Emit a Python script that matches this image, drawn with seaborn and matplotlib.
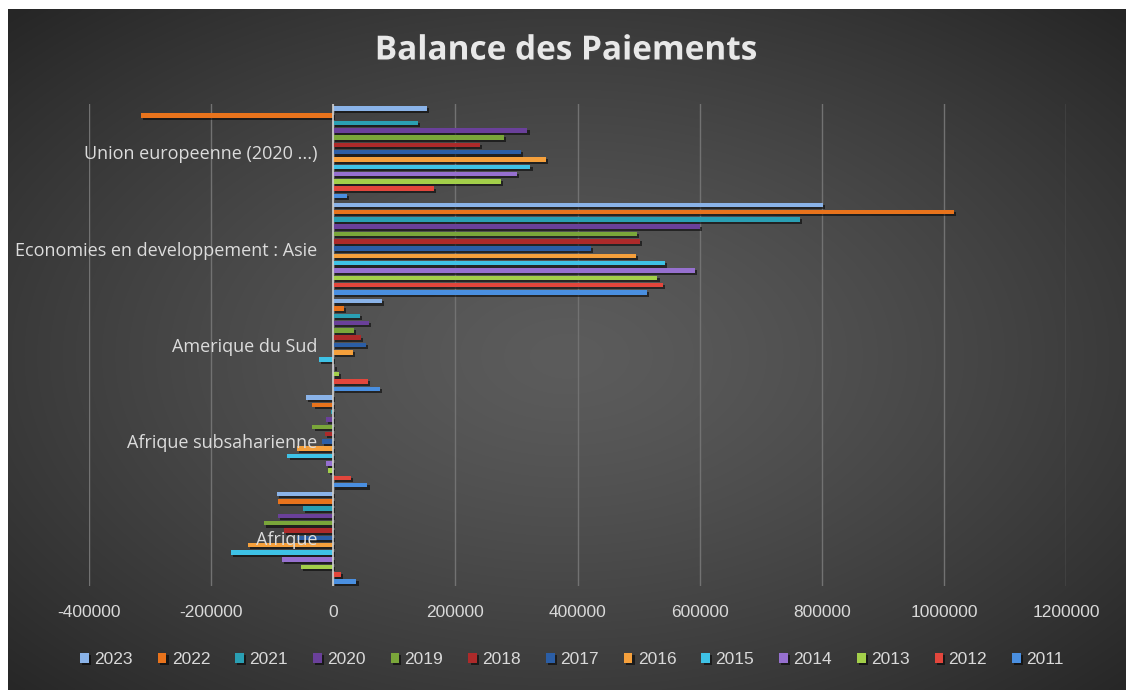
import numpy as np
import pandas as pd
import matplotlib
matplotlib.use("Agg")
import matplotlib.pyplot as plt
import matplotlib.patheffects as pe
import matplotlib.transforms as mtransforms
from matplotlib.ticker import FuncFormatter
import seaborn as sns

# ---- data ----
years = [2011, 2012, 2013, 2014, 2015, 2016, 2017, 2018, 2019, 2020, 2021, 2022, 2023]
categories = ["Union europeenne (2020 ...)", "Economies en developpement : Asie",
              "Amerique du Sud", "Afrique subsaharienne", "Afrique"]
ue_values = [23000, 165000, 275000, 301000, 323000, 349000, 308000, 241000, 280000, 318000, 138000, -315000, 154000]
asie_values = [514000, 540000, 531000, 592000, 543000, 496000, 422000, 502000, 497000, 600000, 764000, 1016000, 802000]
amsud_values = [77000, 57000, 10000, 2000, -23000, 32000, 54000, 45000, 34000, 59000, 43000, 18000, 80000]
afsub_values = [56000, 29000, -8000, -12000, -75000, -59000, -18000, -13000, -34000, -12000, -4000, -34000, -45000]
afrique_values = [38000, 13000, -53000, -84000, -168000, -140000, -60000, -80000, -113000, -91000, -49000, -91000, -92000]
x_ticks = [-400000, -200000, 0, 200000, 400000, 600000, 800000, 1000000, 1200000]
title = "Balance des Paiements"

series_by_cat = dict(zip(categories, [ue_values, asie_values, amsud_values, afsub_values, afrique_values]))
rows = []
for cat, vals in series_by_cat.items():
    for y, v in zip(years, vals):
        rows.append({"category": cat, "year": str(y), "value": v})
df = pd.DataFrame(rows)

year_colors = {
    "2011": "#4a8fe0", "2012": "#e2463c", "2013": "#a3cf4a", "2014": "#9670cf",
    "2015": "#3ec2e6", "2016": "#f5a03c", "2017": "#2b5ea6", "2018": "#ad2a2a",
    "2019": "#7aa63a", "2020": "#6a409a", "2021": "#2a9fb3", "2022": "#e8731c",
    "2023": "#8ab3e8",
}
hue_order = [str(y) for y in years[::-1]]

W, H = 1126, 690
fig = plt.figure(figsize=(W / 100, H / 100), dpi=100, facecolor="white")

# dark radial-gradient background (white strips at left and top as in the screenshot)
bg = fig.add_axes([8 / W, 0, 1 - 8 / W, 1 - 9 / H], zorder=-10)
gx, gy = np.meshgrid(np.linspace(-1, 1, 560), np.linspace(-1, 1, 340))
r = np.sqrt(gx ** 2 + (gy - 0.02) ** 2)
c = 0x5c - (0x5c - 0x26) * np.clip(r / 1.42, 0, 1) ** 1.3
img = np.dstack([c, c, c]) / 255.0
bg.imshow(img, aspect="auto", extent=[0, 1, 0, 1], interpolation="bilinear")
bg.set_axis_off()

ax = fig.add_axes([89 / W, 1 - 586 / H, (1066 - 89) / W, (586 - 104) / H])
ax.set_facecolor("none")

sns.barplot(data=df, x="value", y="category", hue="year", order=categories,
            hue_order=hue_order, palette=year_colors, orient="h",
            width=0.985, gap=0.38, ax=ax, saturation=1)

for p in ax.patches:
    p.set_path_effects([pe.SimplePatchShadow(offset=(1.5, -1.5), shadow_rgbFace="black", alpha=0.55), pe.Normal()])

handles, labels = ax.get_legend_handles_labels()
if ax.get_legend() is not None:
    ax.get_legend().remove()

ax.set_xlim(x_ticks[0], x_ticks[-1])
ax.set_xticks(x_ticks)
ax.xaxis.set_major_formatter(FuncFormatter(lambda v, pos: f"{int(round(v))}"))
ax.grid(axis="x", color="#727272", linewidth=1.0)
ax.grid(axis="y", visible=False)
ax.set_axisbelow(True)
ax.axvline(0, color="#cfcfcf", linewidth=1.2, zorder=1)
for s in ax.spines.values():
    s.set_visible(False)
ax.set_xlabel("")
ax.set_ylabel("")
ax.set_yticks([])
tick_font = ["Liberation Sans", "DejaVu Sans"]
ax.tick_params(axis="x", length=0, pad=14, colors="#d9d9d9", labelsize=12.5)
for t in ax.get_xticklabels():
    t.set_family(tick_font)

trans = mtransforms.blended_transform_factory(ax.transData, ax.transData)
offset = mtransforms.ScaledTranslation(-16 / 100, 0, fig.dpi_scale_trans)
for i, cat in enumerate(categories):
    ax.text(0, i + 0.02, cat, transform=trans + offset, ha="right", va="center",
            color="#dcdcdc", fontsize=13, family=["Open Sans", "DejaVu Sans"], zorder=5)

fig.text(566 / W, 1 - 51 / H, title, ha="center", va="center", color="#e8e8e8",
         fontsize=24, fontweight="bold", family=["Open Sans", "DejaVu Sans"],
         path_effects=[pe.withSimplePatchShadow(offset=(1, -1), alpha=0.5)])

leg = fig.legend(handles, labels, loc="center", ncol=13,
                 bbox_to_anchor=(572 / W, 1 - 660 / H), frameon=False,
                 handlelength=0.5, handleheight=0.5, handletextpad=0.3,
                 columnspacing=1.45, prop={"family": tick_font, "size": 12.5})
for t in leg.get_texts():
    t.set_color("#d9d9d9")

fig.savefig("out.png", dpi=100, facecolor="white")
